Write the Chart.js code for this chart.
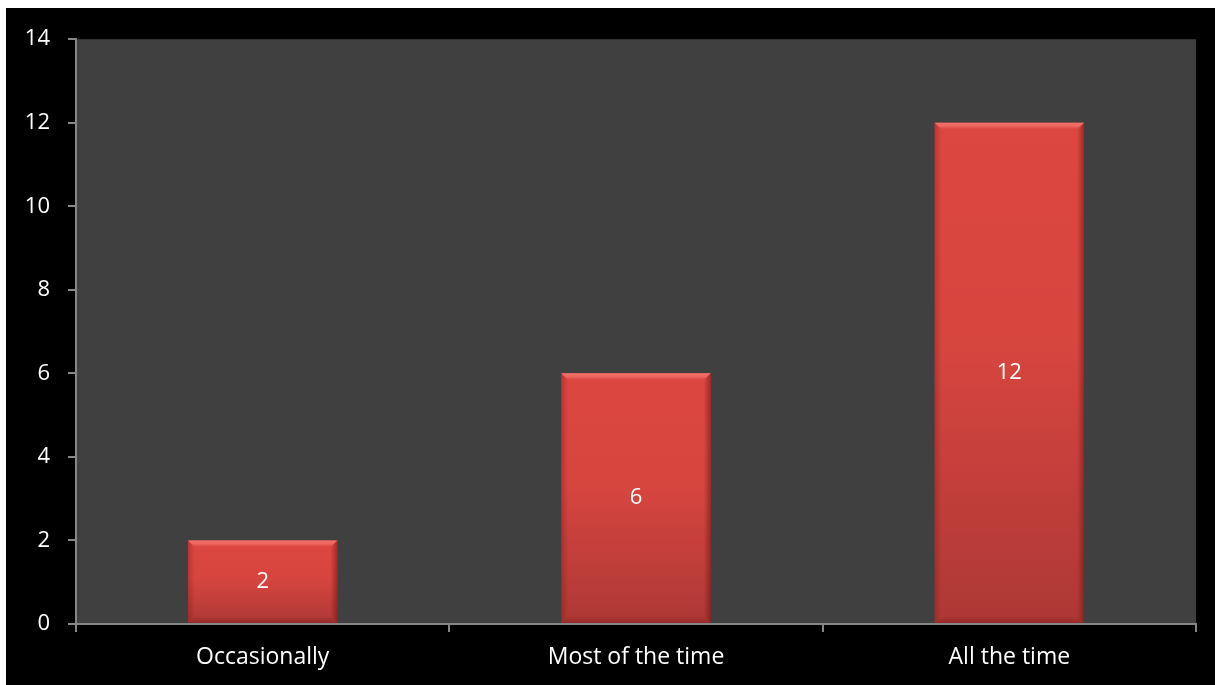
<!DOCTYPE html>
<html>
<head>
<meta charset="utf-8">
<script src="https://cdn.jsdelivr.net/npm/chart.js@4/dist/chart.umd.min.js"></script>
<style>
  html, body { margin: 0; padding: 0; background: #ffffff; }
  #wrap { position: absolute; left: 6px; top: 8px; width: 1209px; height: 677px; background: #000000; }
</style>
</head>
<body>
<div id="wrap"><canvas id="barChart" width="1209" height="677"></canvas></div>
<script>
var categories = ['Occasionally', 'Most of the time', 'All the time'];
var counts = [2, 6, 12];
var yTicks = [0, 2, 4, 6, 8, 10, 12, 14];

var axisGrey = '#868686';
var fontFamily = 'Open Sans, Lato, sans-serif';

// grey plot background
var plotBg = {
    id: 'plotBg',
    beforeDraw: function (chart) {
        var a = chart.chartArea, c = chart.ctx;
        c.save();
        c.fillStyle = '#404040';
        c.fillRect(a.left, a.top, a.right - a.left, a.bottom - a.top);
        c.restore();
    }
};

// soft bevel on the bars + value labels
var barDecor = {
    id: 'barDecor',
    afterDatasetsDraw: function (chart) {
        var c = chart.ctx;
        var meta = chart.getDatasetMeta(0);
        meta.data.forEach(function (bar, i) {
            var l = bar.x - bar.width / 2, r = bar.x + bar.width / 2;
            var t = bar.y, b = bar.base, e = 7;
            c.save();
            // top edge
            var g = c.createLinearGradient(0, t, 0, t + e);
            g.addColorStop(0, '#f4716b');
            g.addColorStop(0.5, '#ee6560');
            g.addColorStop(1, 'rgba(220,72,66,0.2)');
            c.fillStyle = g;
            c.beginPath();
            c.moveTo(l, t); c.lineTo(r, t); c.lineTo(r - e, t + e); c.lineTo(l + e, t + e);
            c.closePath(); c.fill();
            // right edge
            var gr = c.createLinearGradient(r - e, 0, r, 0);
            gr.addColorStop(0, 'rgba(120,20,20,0)');
            gr.addColorStop(1, 'rgba(110,15,15,0.55)');
            c.fillStyle = gr;
            c.beginPath();
            c.moveTo(r, t); c.lineTo(r, b); c.lineTo(r - e, b - e); c.lineTo(r - e, t + e);
            c.closePath(); c.fill();
            // left edge
            var gl = c.createLinearGradient(l, 0, l + e, 0);
            gl.addColorStop(0, 'rgba(110,15,15,0.3)');
            gl.addColorStop(1, 'rgba(120,20,20,0)');
            c.fillStyle = gl;
            c.beginPath();
            c.moveTo(l, t); c.lineTo(l + e, t + e); c.lineTo(l + e, b - e); c.lineTo(l, b);
            c.closePath(); c.fill();
            // bottom edge
            var gb = c.createLinearGradient(0, b - e, 0, b);
            gb.addColorStop(0, 'rgba(90,10,10,0)');
            gb.addColorStop(1, 'rgba(90,10,10,0.3)');
            c.fillStyle = gb;
            c.beginPath();
            c.moveTo(l, b); c.lineTo(l + e, b - e); c.lineTo(r - e, b - e); c.lineTo(r, b);
            c.closePath(); c.fill();
            // value label
            c.fillStyle = '#ffffff';
            c.font = '22px ' + fontFamily;
            c.textAlign = 'center';
            c.textBaseline = 'middle';
            c.fillText(String(counts[i]), bar.x, (t + b) / 2);
            c.restore();
        });
    }
};

var ctx = document.getElementById('barChart').getContext('2d');
var myChart = new Chart(ctx, {
    type: 'bar',
    data: {
        labels: categories,
        datasets: [{
            label: 'Count',
            data: counts,
            backgroundColor: function (context) {
                var chart = context.chart;
                var yScale = chart.scales.y;
                if (!chart.chartArea || !yScale) return '#d64440';
                var top = yScale.getPixelForValue(context.raw);
                var bottom = yScale.getPixelForValue(0);
                var g = chart.ctx.createLinearGradient(0, top, 0, bottom);
                g.addColorStop(0, '#dd4641');
                g.addColorStop(0.45, '#d7453f');
                g.addColorStop(1, '#ad3835');
                return g;
            },
            borderWidth: 0,
            categoryPercentage: 0.4,
            barPercentage: 1.0
        }]
    },
    options: {
        responsive: false,
        animation: false,
        layout: { padding: { top: 30, right: 19, left: 0, bottom: 0 } },
        plugins: {
            legend: { display: false },
            tooltip: { enabled: false }
        },
        scales: {
            x: {
                grid: { offset: true, drawOnChartArea: false, drawTicks: true, tickLength: 8, color: axisGrey, lineWidth: 2 },
                border: { color: axisGrey, width: 2 },
                ticks: { color: '#ffffff', font: { family: fontFamily, size: 23 }, padding: 12 },
                afterFit: function (scale) { scale.height = 61; }
            },
            y: {
                min: 0,
                max: 14,
                afterBuildTicks: function (scale) {
                    scale.ticks = yTicks.map(function (v) { return { value: v }; });
                },
                grid: { drawOnChartArea: false, drawTicks: true, tickLength: 8, color: axisGrey, lineWidth: 2 },
                border: { color: axisGrey, width: 2 },
                ticks: { color: '#ffffff', font: { family: fontFamily, size: 22 }, padding: 18 },
                afterFit: function (scale) { scale.width = 70; }
            }
        }
    },
    plugins: [plotBg, barDecor]
});
</script>
</body>
</html>
